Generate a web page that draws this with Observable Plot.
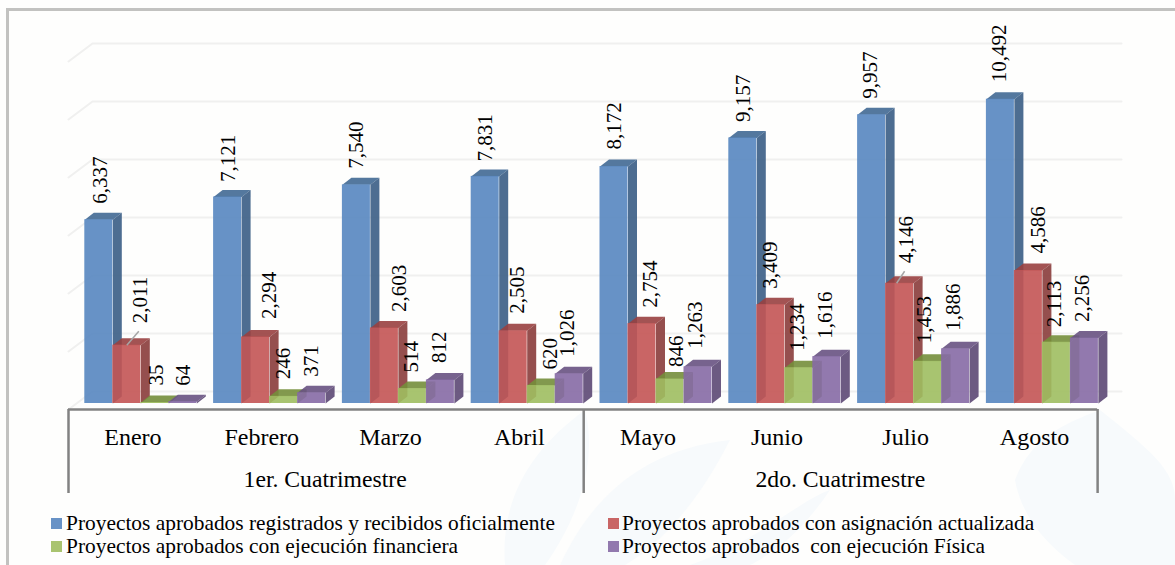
<!DOCTYPE html>
<html>
<head>
<meta charset="utf-8">
<script src="https://cdn.jsdelivr.net/npm/d3@7"></script>
<script src="https://cdn.jsdelivr.net/npm/@observablehq/plot@0.6"></script>
<style>
html,body{margin:0;padding:0;background:#fff;}
#frame{position:relative;width:1175px;height:565px;overflow:hidden;background-color:#fefefd;
  background-image:url("data:image/svg+xml;utf8,<svg xmlns='http://www.w3.org/2000/svg' width='1175' height='565'><g fill='%23f7fafc'><path d='M505 565C500 500 530 450 585 410C600 470 570 530 545 565Z'/><path d='M560 565C590 500 640 450 730 440C700 500 660 545 625 565Z'/><path d='M690 565C760 540 800 500 830 490C800 535 770 555 750 565Z'/><path d='M1015 480C1030 440 1060 425 1100 410C1150 450 1175 470 1175 500L1175 565L1075 565C1040 540 1020 510 1015 480Z'/></g></svg>");}
#frame:before{content:"";position:absolute;left:6px;top:8px;right:0;bottom:0;border-left:3px solid #c2c2c0;border-top:3px solid #c2c2c0;pointer-events:none;}
#chart{position:absolute;left:0;top:0;}
#chart svg{background:transparent;display:block;}
#legend{position:absolute;left:0;top:505px;width:1175px;height:60px;font-family:"Liberation Serif",serif;font-size:21.4px;color:#000;}
.item{position:absolute;white-space:pre;line-height:22px;}
.sw{position:absolute;width:11px;height:11px;}
</style>
</head>
<body>
<div id="frame">
  <div id="chart"></div>
  <div id="legend"></div>
</div>
<script>
const months = ["Enero","Febrero","Marzo","Abril","Mayo","Junio","Julio","Agosto"];
const periods = ["1er. Cuatrimestre","2do. Cuatrimestre"];
const seriesNames = [
  "Proyectos aprobados registrados y recibidos oficialmente",
  "Proyectos aprobados con asignación actualizada",
  "Proyectos aprobados con ejecución financiera",
  "Proyectos aprobados  con ejecución Física"
];
const registrados = [6337,7121,7540,7831,8172,9157,9957,10492];
const asignacion  = [2011,2294,2603,2505,2754,3409,4146,4586];
const financiera  = [35,246,514,620,846,1234,1453,2113];
const fisica      = [64,371,812,1026,1263,1616,1886,2256];
const gridValues  = [0,2000,4000,6000,8000,10000,12000];

// Styling and projection, separate from the values
const swatchColors = ["#6892c6","#c96565","#a9c470","#9279ae"];
const faceColors = ["#5786c0","#c35454","#9fbe60","#866aa5"];
const sideColors = ["#3a5d85","#8a3c3b","#748e3b","#5c4874"];
const topColors  = ["#416994","#994040","#748e3b","#685282"];
const labelShiftX = [
  [1,1,0,0,0,0,-1,-1],
  [13,14,15,4,8,-1,7,10],
  [1,0,-1,9,6,-2,-3,-2],
  [0,0,-1,-2,-3,-2,-2,-2]
];
const labelShiftY = [
  [-16,-15,-16,-15,-17,-16,-16,-17],
  [-22,-18,-16,-17,-16,-16,-20,-17],
  [-17,-17,-16,-16,-12,-17,-18,-15],
  [-16,-16,-17,-17,-18,-18,-18,-16]
];
const leaderLines = [
  {series:1, month:0, fromX:14, fromY:0, toX:26, toY:-14},
  {series:1, month:6, fromX:11, fromY:0, toX:19, toY:-12}
];

const step = 128.8, left = 68;
const pxX = p => p / step;                     // px -> x units
const unitsPerPx = 12000 / 348;
const pxY = p => -p * unitsPerPx;              // px (down) -> y units
const barW = pxX(28), barStart = pxX(16.3);
const depthX = pxX(9), depthY = pxY(-7);
const values = [registrados, asignacion, financiera, fisica];

const barX = (m, s) => m + barStart + s * barW;

function barMarks(vals, s) {
  const rows = vals.map((v, m) => ({m, v, x1: barX(m, s), x2: barX(m, s) + barW}));
  const side = rows.flatMap(r => [
    {m:r.m, x:r.x2, y:0}, {m:r.m, x:r.x2+depthX, y:depthY},
    {m:r.m, x:r.x2+depthX, y:r.v+depthY}, {m:r.m, x:r.x2, y:r.v}
  ]);
  const top = rows.flatMap(r => [
    {m:r.m, x:r.x1, y:r.v}, {m:r.m, x:r.x2, y:r.v},
    {m:r.m, x:r.x2+depthX, y:r.v+depthY}, {m:r.m, x:r.x1+depthX, y:r.v+depthY}
  ]);
  const opts = {x:"x", y:"y", z:"m", strokeWidth:0, stroke:"none", fillOpacity:0.9};
  return [
    Plot.line(top,  {...opts, fill: topColors[s]}),
    Plot.line(side, {...opts, fill: sideColors[s]}),
    Plot.rect(rows, {x1:"x1", x2:"x2", y1:0, y2:"v", inset:0, fill: faceColors[s], fillOpacity:0.9})
  ];
}

function labelMark(vals, s) {
  const rows = vals.map((v, m) => ({
    t: d3.format(",")(v),
    x: barX(m, s) + barW/2 + pxX(labelShiftX[s][m]),
    y: v + pxY(labelShiftY[s][m])
  }));
  return Plot.text(rows, {x:"x", y:"y", text:"t", rotate:-90, textAnchor:"start", lineAnchor:"middle",
    fontFamily:"Liberation Serif, serif", fontSize:21, fill:"#000"});
}

// Perspective gridlines: front wall edge -> back wall -> far right
const gridFront = pxY(6), gridBack = pxY(-12);
const grid = gridValues.flatMap(v => [
  {v, x:0, y:v+gridFront},
  {v, x:pxX(24), y:v+gridBack},
  {v, x:pxX(1053), y:v+gridBack}
]);

const axisY = pxY(6), axisEnd = pxY(90);
const monthRows = months.map((t,i)=>({t, x:i+0.5, y:pxY(34)}));
const periodRows = periods.map((t,i)=>({t, x:i*4+2-pxX(1), y:pxY(76)}));

const leaders = leaderLines.map(l => {
  const x0 = barX(l.month,l.series), v = values[l.series][l.month];
  return {x1:x0+pxX(l.fromX), y1:v+pxY(l.fromY), x2:x0+pxX(l.toX), y2:v+pxY(l.toY)};
});

const chart = Plot.plot({
  width:1175, height:505,
  marginLeft:0, marginRight:0, marginTop:0, marginBottom:0,
  style:{background:"transparent"},
  x:{type:"linear", domain:[0,8], range:[left, left+8*step], axis:null},
  y:{type:"linear", domain:[0,12000], range:[403,55], axis:null},
  marks:[
    Plot.line(grid,{x:"x",y:"y",z:"v",stroke:"#f0f0ef",strokeWidth:2}),
    ...values.flatMap((vals,s)=>barMarks(vals,s)),
    Plot.link(leaders,{x1:"x1",y1:"y1",x2:"x2",y2:"y2",stroke:"#a6a6a6",strokeWidth:1.5}),
    ...values.map((vals,s)=>labelMark(vals,s)),
    Plot.ruleY([axisY],{x1:0,x2:7.99,stroke:"#828282",strokeWidth:2.5}),
    Plot.ruleX([0,4,7.99],{y1:axisY,y2:axisEnd,stroke:"#828282",strokeWidth:2.5}),
    Plot.text(monthRows,{x:"x",y:"y",text:"t",fontFamily:"Liberation Serif, serif",fontSize:24,fill:"#000"}),
    Plot.text(periodRows,{x:"x",y:"y",text:"t",fontFamily:"Liberation Serif, serif",fontSize:23.7,fill:"#000"})
  ]
});
document.getElementById("chart").appendChild(chart);

const legend = document.getElementById("legend");
const spots = [[51,66,13],[608,622,13],[51,66,36],[608,622,36]];
seriesNames.forEach((n,i)=>{
  const [sx,tx,cy] = spots[i];
  const sw = document.createElement("div"); sw.className="sw";
  sw.style.cssText=`left:${sx}px;top:${cy}px;background:${swatchColors[i]}`;
  const t = document.createElement("div"); t.className="item";
  t.style.left=tx+"px"; t.style.top=(cy-6)+"px"; t.textContent=n;
  legend.appendChild(sw); legend.appendChild(t);
});
</script>
</body>
</html>
